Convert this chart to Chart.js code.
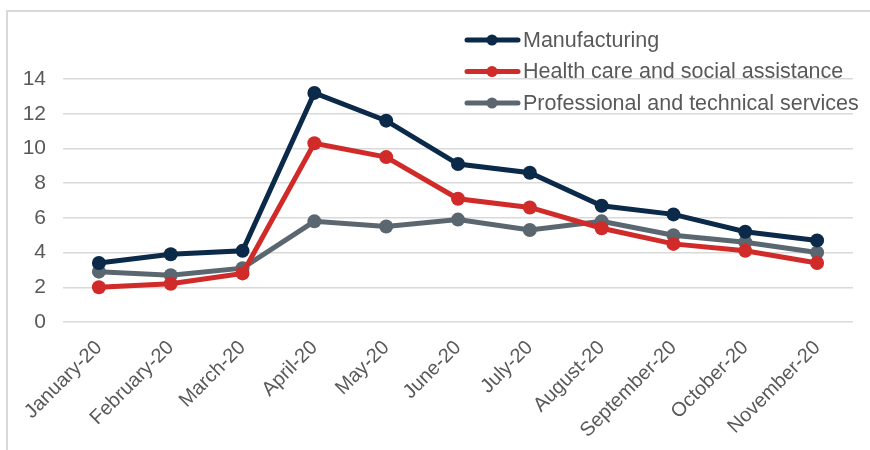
<!DOCTYPE html>
<html>
<head>
<meta charset="utf-8">
<script src="https://cdn.jsdelivr.net/npm/chart.js@4.4.1/dist/chart.umd.min.js"></script>
<style>
    body { margin: 0; background: #fff; }
    #wrap { position: relative; width: 870px; height: 450px; overflow: hidden; }
    #frame { position: absolute; left: 6px; top: 10px; width: 900px; height: 500px; border: 2px solid #d9d9d9; box-sizing: border-box; }
    #chart { position: absolute; left: 0; top: 0; }
</style>
</head>
<body>
<div id="wrap">
    <div id="frame"></div>
    <canvas id="chart" width="870" height="450"></canvas>
</div>
<script>
// -------------------------------------------------------------------------- Data
const months = [
    'January-20', 'February-20', 'March-20', 'April-20', 'May-20', 'June-20',
    'July-20', 'August-20', 'September-20', 'October-20', 'November-20'
]

const manufacturing = [3.4, 3.9, 4.1, 13.2, 11.6, 9.1, 8.6, 6.7, 6.2, 5.2, 4.7]
const healthCare = [2.0, 2.2, 2.8, 10.3, 9.5, 7.1, 6.6, 5.4, 4.5, 4.1, 3.4]
const professional = [2.9, 2.7, 3.1, 5.8, 5.5, 5.9, 5.3, 5.8, 5.0, 4.6, 4.0]

const yTicks = [0, 2, 4, 6, 8, 10, 12, 14]

let navy = '#0b2949'
let red = '#d12b29'
let slate = '#5a6670'
let textGrey = '#595959'
let gridGrey = '#d9d9d9'
let font = '"Liberation Sans", Arial, sans-serif'

// -------------------------------------------------------------------------- Legend plugin
const cornerLegend = {
    id: 'cornerLegend',
    afterDraw(chart) {
        const ctx = chart.ctx
        ctx.save()
        chart.data.datasets.forEach((ds, i) => {
            const y = 40 + i * 31.5
            ctx.strokeStyle = ds.borderColor
            ctx.fillStyle = ds.borderColor
            ctx.lineWidth = 5
            ctx.lineCap = 'round'
            ctx.beginPath()
            ctx.moveTo(467, y)
            ctx.lineTo(518, y)
            ctx.stroke()
            ctx.beginPath()
            ctx.arc(492, y, 5.5, 0, Math.PI * 2)
            ctx.fill()
            ctx.fillStyle = textGrey
            ctx.font = '21.5px ' + font
            ctx.textBaseline = 'middle'
            ctx.fillText(ds.label, 523, y + 1)
        })
        ctx.restore()
    }
}

// -------------------------------------------------------------------------- Chart
const makeSet = (label, data, color) => ({
    label: label,
    data: data,
    borderColor: color,
    backgroundColor: color,
    borderWidth: 5,
    pointRadius: 7,
    pointHoverRadius: 7,
    pointBorderWidth: 0,
    tension: 0
})

new Chart(document.getElementById('chart'), {
    type: 'line',
    data: {
        labels: months,
        datasets: [
            makeSet('Manufacturing', manufacturing, navy),
            makeSet('Health care and social assistance', healthCare, red),
            makeSet('Professional and technical services', professional, slate)
        ]
    },
    options: {
        responsive: false,
        animation: false,
        layout: { padding: { top: 79, right: 17, left: 0, bottom: 0 } },
        plugins: {
            legend: { display: false },
            tooltip: { enabled: false }
        },
        scales: {
            x: {
                offset: true,
                grid: { display: false, drawTicks: false },
                border: { display: false },
                ticks: {
                    color: textGrey,
                    font: { family: font, size: 20 },
                    maxRotation: 45,
                    minRotation: 45,
                    padding: 14,
                    autoSkip: false
                },
                afterFit(scale) { scale.height = 128 }
            },
            y: {
                min: 0,
                max: 14,
                afterBuildTicks(scale) { scale.ticks = yTicks.map(v => ({ value: v })) },
                grid: { color: gridGrey, lineWidth: 1.5, drawTicks: false },
                border: { display: false },
                ticks: {
                    color: textGrey,
                    font: { family: font, size: 21 },
                    padding: 17
                },
                afterFit(scale) { scale.width = 63 }
            }
        }
    },
    plugins: [cornerLegend]
})
</script>
</body>
</html>
